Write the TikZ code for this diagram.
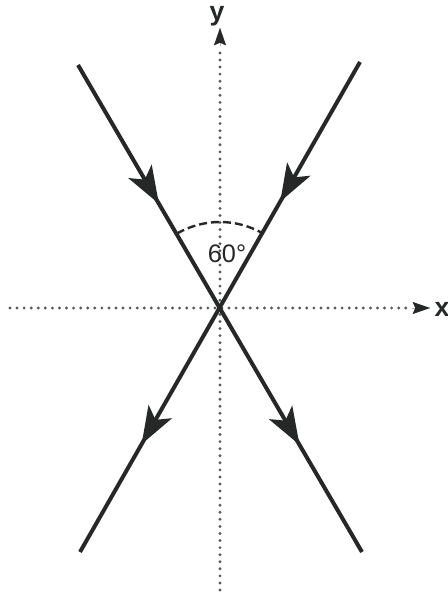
\documentclass[tikz,border=0pt]{standalone}
\usepackage{fontspec}
\setmainfont{Liberation Sans}
\usetikzlibrary{arrows.meta,decorations.markings}
\definecolor{ink}{HTML}{262828}
\tikzset{
  axisline/.style={draw=black!65, line width=2.4pt, line cap=round, dash pattern=on 0pt off 5.3pt},
  ray/.style={draw=ink, line width=3pt},
  fwdarrows/.style={postaction={decorate}, decoration={markings,
     mark=at position 0.285 with {\arrow{Stealth[length=28pt,width=20pt,inset=7pt]}},
     mark=at position 0.78 with {\arrow{Stealth[length=28pt,width=20pt,inset=7pt]}}}},
  axtip/.style={-{Stealth[length=13pt,width=9pt,inset=2pt]}},
  lbl/.style={inner sep=0pt, font=\fontsize{19}{19}\selectfont, text=ink}
}
\begin{document}
\begin{tikzpicture}[x=0.75pt,y=-0.75pt]
\useasboundingbox (0,0) rectangle (448,592);
\coordinate (O) at (220,308);
\coordinate (ybot) at (220,590);
\coordinate (ytop) at (220,28);
\coordinate (xleft) at (10,308);
\coordinate (xright) at (430,308);
\coordinate (a1) at (78,65);
\coordinate (a2) at (362,552);
\coordinate (b1) at (360,62);
\coordinate (b2) at (80,552);
% axes
\draw[axisline] (ybot) -- (220,50);
\path[draw=ink, line width=0.01pt, axtip] (220,46) -- (ytop);
\draw[axisline] (xleft) -- (410,308);
\path[draw=ink, line width=0.01pt, axtip] (412,308) -- (xright);
\node[lbl, font=\fontsize{20}{20}\selectfont\bfseries] (ylab) at (217,16) {y};
\node[lbl, font=\fontsize{20}{20}\selectfont\bfseries] (xlab) at (442,309) {x};
% rays
\draw[ray, fwdarrows] (a1) -- (a2);
\draw[ray, fwdarrows] (b1) -- (b2);
% angle arc
\draw[draw=ink, line width=1.8pt, dash pattern=on 6pt off 3pt] (O) ++(240:86) arc[start angle=240, end angle=300, radius=86];
\node[lbl] (ang) at (227,254) {60°};
\end{tikzpicture}
\end{document}
